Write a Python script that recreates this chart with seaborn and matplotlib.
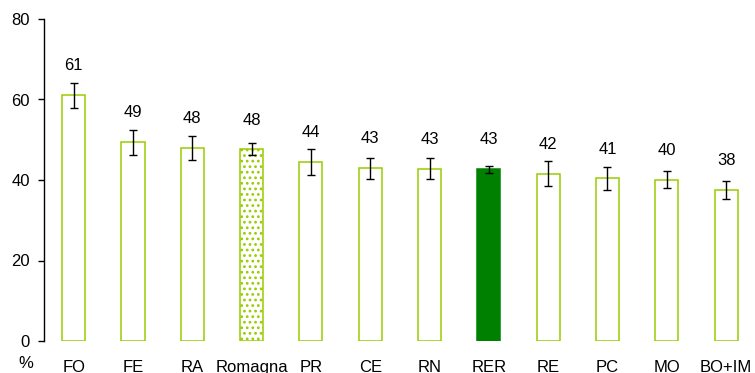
import numpy as np
import pandas as pd
import matplotlib
matplotlib.use("Agg")
import matplotlib.pyplot as plt
import seaborn as sns

categories = ["FO", "FE", "RA", "Romagna", "PR", "CE", "RN", "RER", "RE", "PC", "MO", "BO+IM"]
values = [61.2, 49.4, 47.9, 47.6, 44.5, 42.9, 42.7, 42.7, 41.6, 40.4, 40.1, 37.5]
lower = [58.0, 46.1, 44.9, 46.1, 41.2, 40.2, 40.2, 41.8, 38.6, 37.4, 38.0, 35.4]
upper = [64.0, 52.3, 50.9, 49.1, 47.6, 45.5, 45.5, 43.5, 44.8, 43.3, 42.3, 39.8]
value_labels = ["61", "49", "48", "48", "44", "43", "43", "43", "42", "41", "40", "38"]
y_ticks = [0, 20, 40, 60, 80]

sns.set_theme(style="white")
plt.rcParams["font.family"] = ["Liberation Sans", "DejaVu Sans"]
plt.rcParams["hatch.color"] = "#a8d42a"
plt.rcParams["hatch.linewidth"] = 1.2

df = pd.DataFrame({"cat": categories, "val": values})

fig = plt.figure(figsize=(7.55, 3.73), dpi=100)
ax = fig.add_axes([44 / 755, 1 - 341 / 373, 1 - 44 / 755 + 0.001, (341 - 19) / 373])

sns.barplot(data=df, x="cat", y="val", order=categories, width=0.39,
            color="white", edgecolor="#99cc00", linewidth=1.1, errorbar=None, ax=ax)

for patch, cat in zip(ax.patches, categories):
    patch.set_facecolor("white")
    patch.set_edgecolor("#99cc00")
    if cat == "RER":
        patch.set_facecolor("#008000")
        patch.set_edgecolor("#008000")
    elif cat == "Romagna":
        patch.set_hatch("...")

x = np.arange(len(categories))
vals = np.array(values)
yerr = np.vstack([vals - np.array(lower), np.array(upper) - vals])
ax.errorbar(x, vals, yerr=yerr, fmt="none", ecolor="black", elinewidth=1.0,
            capsize=3, capthick=1.0, zorder=5)

for xi, v, lab in zip(x, values, value_labels):
    ax.text(xi, v + 7.3, lab, ha="center", va="center", fontsize=12, color="black")

ax.set_xlim(-0.5, len(categories) - 0.5)
ax.set_ylim(0, 80)
ax.set_yticks(y_ticks)
ax.set_yticklabels([str(t) for t in y_ticks])
ax.set_xlabel("")
ax.set_ylabel("")

for s in ["top", "right", "bottom"]:
    ax.spines[s].set_visible(False)
ax.spines["left"].set_color("black")
ax.spines["left"].set_linewidth(1.0)

ax.tick_params(axis="y", which="both", left=True, length=4, width=1.0, color="black",
               pad=6, labelsize=12, labelcolor="black")
ax.tick_params(axis="x", which="both", bottom=False, length=0, pad=13.5,
               labelsize=12, labelcolor="black")

fig.text(25.5 / 755, 1 - 364 / 373, "%", ha="center", va="center", fontsize=12, color="black")

fig.savefig("out.png", dpi=100)
